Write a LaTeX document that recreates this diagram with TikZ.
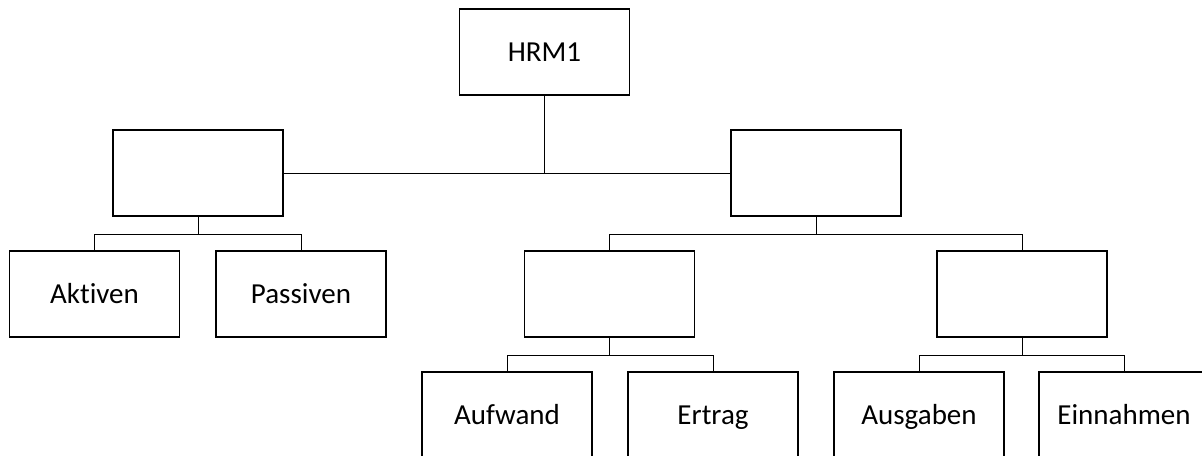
\documentclass[tikz,border=0pt]{standalone}
\usepackage{fontspec}
\setmainfont{Carlito}[Ligatures=NoCommon]
\begin{document}
\begin{tikzpicture}[x=0.5pt,y=-0.5pt,
  box/.style={draw,line width=0.75pt,minimum width=85pt,minimum height=43pt,
    inner sep=0pt,text height=9.3pt,text depth=0pt,
    font=\fontsize{14.5}{17}\selectfont},
  link/.style={line width=0.5pt}]
  \useasboundingbox (0,0) rectangle (1202,455);
  \clip (0,0) rectangle (1202,455);

  %top
  \node[box] (hrm) at (544.5,52) {HRM1};

  %second row
  \node[box] (bilanz) at (198,173) {};
  \node[box] (rechnung) at (816,173) {};

  %third row
  \node[box] (aktiven) at (94.5,294) {Aktiven};
  \node[box] (passiven) at (301,294) {Passiven};
  \node[box] (erfolg) at (609.5,294) {};
  \node[box] (finanz) at (1022,294) {};

  %bottom row
  \node[box] (aufwand) at (507,415) {Aufwand};
  \node[box] (ertrag) at (713,415) {Ertrag};
  \node[box] (ausgaben) at (919,415) {Ausgaben};
  \node[box] (einnahmen) at (1124,415) {Einnahmen};

  %connectors
  \draw[link] (bilanz.east) -- (rechnung.west);
  \draw[link] (hrm.south) -- (hrm.south |- bilanz.east);

  \foreach \p/\a/\b in {bilanz/aktiven/passiven,rechnung/erfolg/finanz,
                        erfolg/aufwand/ertrag,finanz/ausgaben/einnahmen}{
    \draw[link] (\p.south) -- ++(0,17.5) coordinate (\p-j);
    \draw[link] (\a.north) |- (\p-j) -| (\b.north);
  }

\end{tikzpicture}
\end{document}
